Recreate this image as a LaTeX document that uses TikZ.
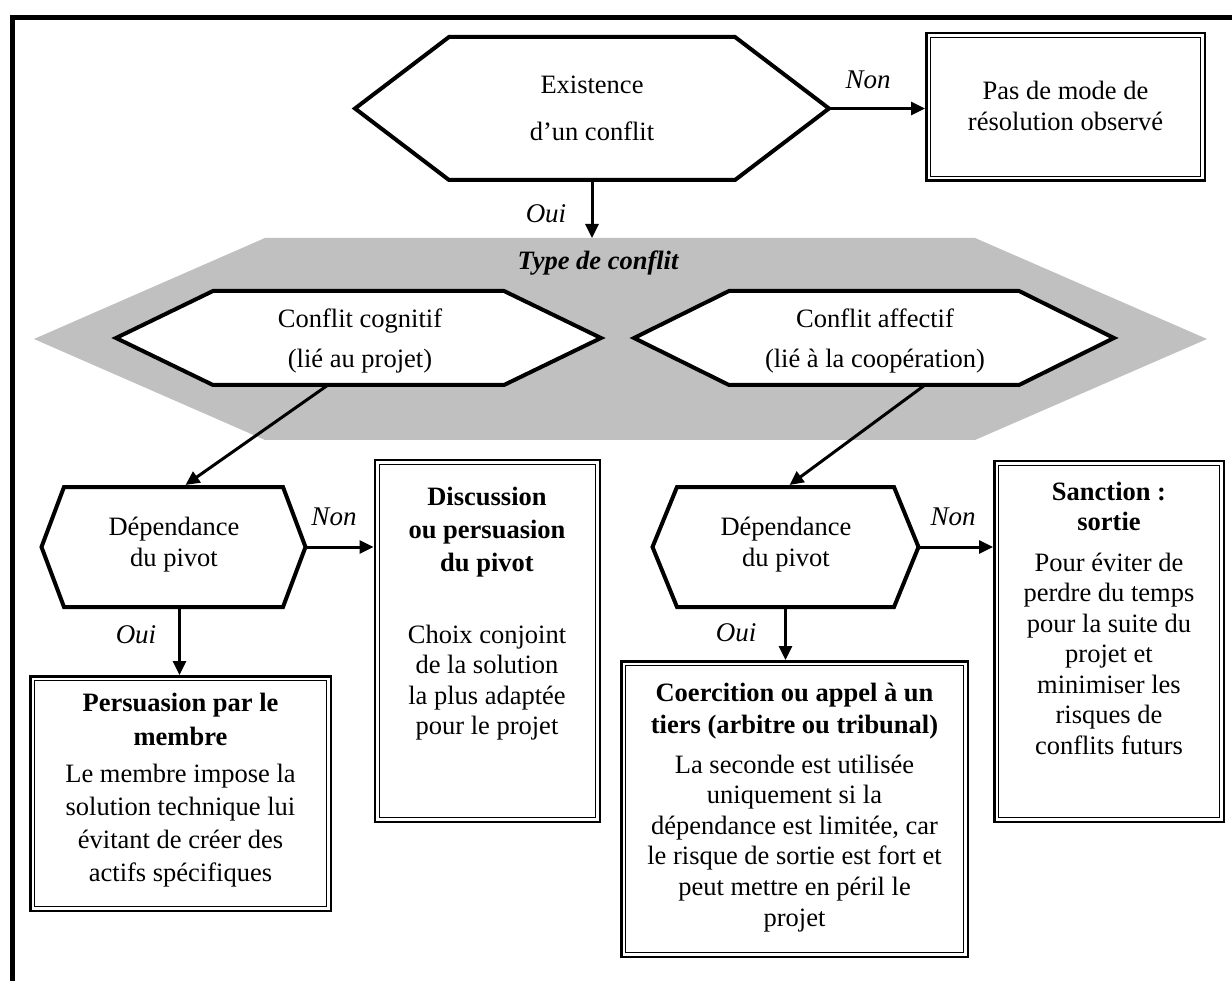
\documentclass[tikz,border=0pt]{standalone}
\usepackage{fontspec}
\setmainfont{Liberation Serif}
\usetikzlibrary{calc,arrows.meta}
\definecolor{bandgrey}{HTML}{C0C0C0}
\newcommand\hexa[2]{%
  \draw[hexline] (#1.north west) -- (#1.north east) -- ($(#1.east)+(#2,0)$) coordinate (#1-r)
    -- (#1.south east) -- (#1.south west) -- ($(#1.west)+(-#2,0)$) coordinate (#1-l) -- cycle;}
\begin{document}
\begin{tikzpicture}[x=1pt,y=-1pt,
  hexbox/.style={draw=none,inner sep=0pt,outer sep=0pt},
  hexline/.style={draw=black,line width=4pt,fill=white,line join=miter},
  dbl/.style={draw=black,fill=white,line width=2.5pt,inner sep=0pt,outer sep=1.25pt,
    path picture={\draw[line width=1.2pt]
      ([shift={(4.5pt,-4.5pt)}]path picture bounding box.north west) rectangle
      ([shift={(-4.5pt,4.5pt)}]path picture bounding box.south east);}},
  arr/.style={line width=3pt,-{Triangle[length=14pt,width=13pt]}},
  lbl/.style={font=\fontsize{27}{30}\selectfont\itshape,inner sep=0pt,anchor=base},
  txt/.style={font=\fontsize{26.5}{31}\selectfont,align=center,inner sep=0pt},
  btxt/.style={txt,anchor=base,font=\fontsize{26.5}{#1}\selectfont\bfseries},
  rtxt/.style={txt,anchor=base,font=\fontsize{26.5}{#1}\selectfont},
]
\useasboundingbox (0,0) rectangle (1232,981);
\fill[white] (0,0) rectangle (1232,981);
% frame
\draw[line width=5pt] (12.5,981) -- (12.5,17.5) -- (1232,17.5);

% grey band
\node[hexbox,minimum width=710pt,minimum height=202pt] (band) at (620,339) {};
\fill[bandgrey] (band.north west) -- (band.north east) -- ($(band.east)+(232,0)$)
  -- (band.south east) -- (band.south west) -- ($(band.west)+(-231,0)$) -- cycle;
\node[font=\fontsize{26.5}{30}\selectfont\bfseries\itshape,inner sep=0pt,anchor=base] (ttype) at (598,270) {Type de conflit};

% top decision
\node[hexbox,minimum width=286pt,minimum height=143pt] (h0) at (592,108.5) {};
\hexa{h0}{94}
\node[txt] (t0) at (h0) {Existence\\[16pt]d’un conflit};

\node[dbl,minimum width=278.5pt,minimum height=147.5pt] (b0) at (1065.5,107) {};
\node[rtxt=31] (tb0) at (1065.5,131) {Pas de mode de\\résolution observé};

% conflict types
\node[hexbox,minimum width=291pt,minimum height=94pt] (hc) at (358.5,338) {};
\hexa{hc}{97}
\node[txt] (thc) at (360,341) {Conflit cognitif\\[9pt](lié au projet)};

\node[hexbox,minimum width=290pt,minimum height=94pt] (ha) at (874,338) {};
\hexa{ha}{95}
\node[txt] (tha) at (875,341) {Conflit affectif\\[9pt](lié à la coopération)};

% dependence
\node[hexbox,minimum width=219pt,minimum height=120pt] (hd1) at (173.5,547) {};
\hexa{hd1}{22.5}
\node[txt] (thd1) at (174,545) {Dépendance\\du pivot};

\node[hexbox,minimum width=217pt,minimum height=120pt] (hd2) at (785.5,547) {};
\hexa{hd2}{24.5}
\node[txt] (thd2) at (786,545) {Dépendance\\du pivot};

% result boxes
\node[dbl,minimum width=225pt,minimum height=361.5pt] (bdisc) at (487.25,641) {};
\node[btxt=33] (tdisc1) at (487,571) {Discussion\\ou persuasion\\du pivot};
\node[rtxt=30.5] (tdisc2) at (487,734.5) {Choix conjoint\\de la solution\\la plus adaptée\\pour le projet};

\node[dbl,minimum width=300.5pt,minimum height=234.5pt] (bpers) at (180.5,793.5) {};
\node[btxt=34] (tpers1) at (180.5,745) {Persuasion par le\\membre};
\node[rtxt=33] (tpers2) at (180.5,881) {Le membre impose la\\solution technique lui\\évitant de créer des\\actifs spécifiques};

\node[dbl,minimum width=346.5pt,minimum height=295.5pt] (bcoer) at (794.5,809) {};
\node[btxt=32] (tcoer1) at (794.5,733) {Coercition ou appel à un\\tiers (arbitre ou tribunal)};
\node[rtxt=30.6] (tcoer2) at (794.5,926) {La seconde est utilisée\\uniquement si la\\dépendance est limitée, car\\le risque de sortie est fort et\\peut mettre en péril le\\projet};

\node[dbl,minimum width=229.5pt,minimum height=360.5pt] (bsanc) at (1109,641.5) {};
\node[btxt=30] (tsanc1) at (1109,530) {Sanction :\\sortie};
\node[rtxt=30.5] (tsanc2) at (1109,754) {Pour éviter de\\perdre du temps\\pour la suite du\\projet et\\minimiser les\\risques de\\conflits futurs};

% connectors
\draw[arr] (h0-r) -- (h0-r -| b0.west);
\node[lbl] (lnon0) at (868,89) {Non};
\draw[arr] (h0.south) -- (h0.south |- band.north);
\node[lbl] (loui0) at (546,223) {Oui};

\coordinate (cs) at ($(hc.south)+(-30.5,0)$);
\coordinate (ce) at ($(hd1.north)+(12,-2)$);
\draw[arr] (cs) -- (ce);
\coordinate (as) at ($(ha.south)+(51,0)$);
\coordinate (ae) at ($(hd2.north)+(4,-2)$);
\draw[arr] (as) -- (ae);

\draw[arr] (hd1-r) -- (hd1-r -| bdisc.west);
\node[lbl] (lnon1) at (334,525) {Non};
\coordinate (o1) at ($(hd1.south)+(6,0)$);
\draw[arr] (o1) -- (o1 |- bpers.north);
\node[lbl] (loui1) at (136,643) {Oui};

\draw[arr] (hd2-r) -- (hd2-r -| bsanc.west);
\node[lbl] (lnon2) at (953,525) {Non};
\draw[arr] (hd2.south) -- (hd2.south |- bcoer.north);
\node[lbl] (loui2) at (736,641) {Oui};
\end{tikzpicture}
\end{document}
